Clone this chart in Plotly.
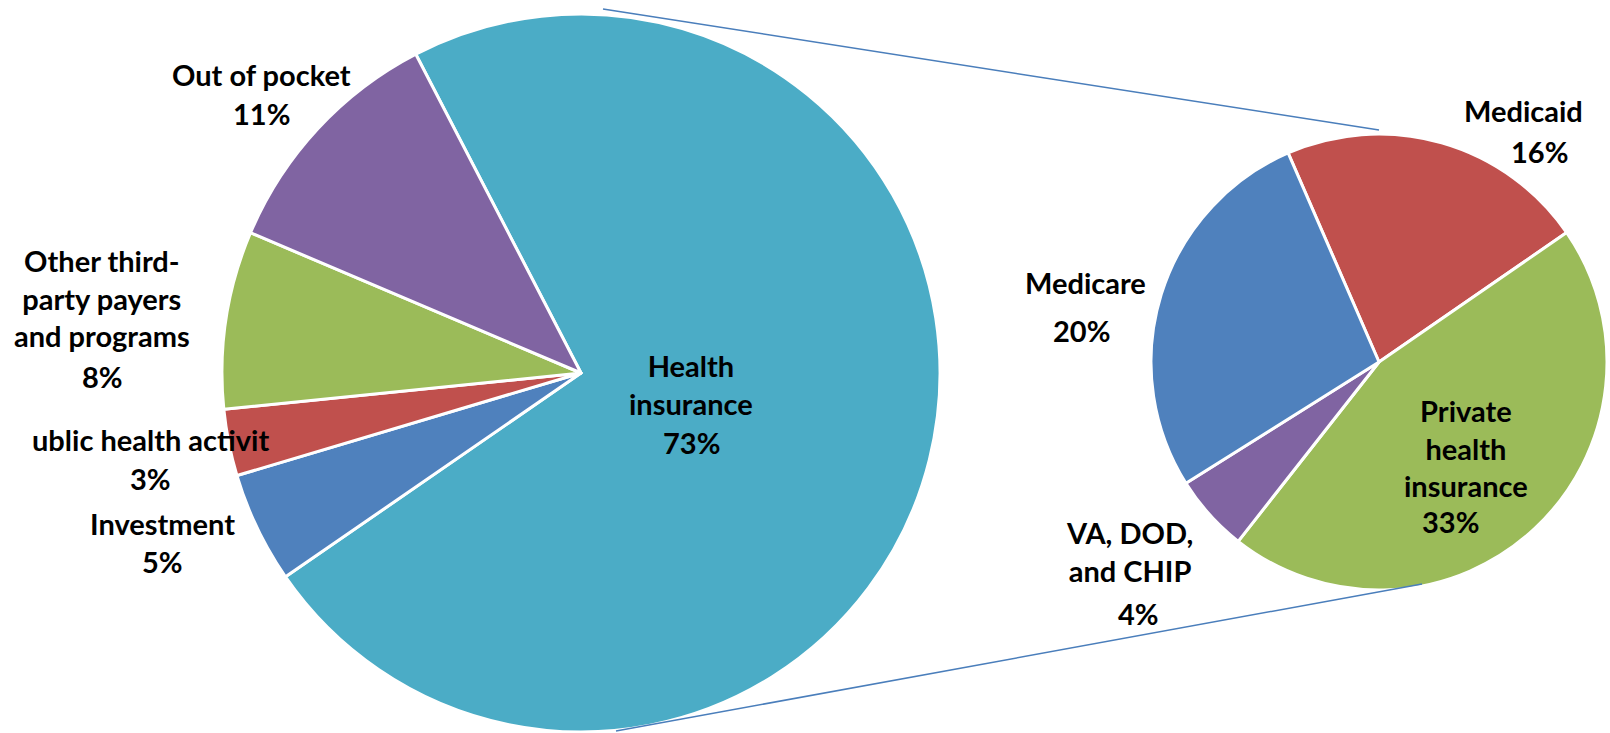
import plotly.graph_objects as go

# ---------------- data ----------------
left_labels = ["Health insurance", "Investment", "Public health activity",
               "Other third-party payers and programs", "Out of pocket"]
left_values = [73, 5, 3, 8, 11]
left_colors = ["#4BACC6", "#4F81BD", "#C0504D", "#9BBB59", "#8064A2"]
left_display = ["Health<br>insurance", "Investment", "ublic health activit",
                "Other third-<br>party payers<br>and programs", "Out of pocket"]

right_labels = ["Medicaid", "Private health insurance", "VA, DOD, and CHIP", "Medicare"]
right_values = [16, 33, 4, 20]
right_colors = ["#C0504D", "#9BBB59", "#8064A2", "#4F81BD"]
right_display = ["Medicaid", "Private<br>health<br>insurance", "VA, DOD,<br>and CHIP", "Medicare"]

W, H = 1610, 733

# label placement (pixel centers): (name_x, name_y, pct_x, pct_y)
left_pos = [(691, 384, 691, 442), (162, 523, 162, 561), (150, 439, 150, 478),
            (102, 298, 102, 376), (261, 75, 261, 113)]
right_pos = [(1523, 111, 1539, 151), (1466, 448, 1450, 521), (1129, 551, 1138, 613),
             (1085, 282, 1081, 330)]

FONT = "Lato, 'Open Sans', sans-serif"
FS = 29


def px(x, y):
    return x / W, 1 - y / H


fig = go.Figure()
fig.add_trace(go.Pie(
    labels=left_labels, values=left_values, sort=False, direction="clockwise",
    rotation=-27.4, textinfo="none", hoverinfo="label+percent",
    marker=dict(colors=left_colors, line=dict(color="white", width=3)),
    domain=dict(x=[222 / W, 940 / W], y=[1 - 732 / H, 1 - 14 / H]),
    showlegend=False,
))
fig.add_trace(go.Pie(
    labels=right_labels, values=right_values, sort=False, direction="clockwise",
    rotation=-23.5, textinfo="none", hoverinfo="label+value",
    marker=dict(colors=right_colors, line=dict(color="white", width=3)),
    domain=dict(x=[1151 / W, 1607 / W], y=[1 - 590 / H, 1 - 134 / H]),
    showlegend=False,
))

annotations = []
for names, vals, pos in [(left_display, left_values, left_pos),
                         (right_display, right_values, right_pos)]:
    for name, v, (nx, ny, qx, qy) in zip(names, vals, pos):
        x, y = px(nx, ny)
        annotations.append(dict(text="<b>%s</b>" % name, x=x, y=y, xref="paper", yref="paper",
                                xanchor="center", yanchor="middle", showarrow=False,
                                font=dict(family=FONT, size=FS, color="black")))
        x, y = px(qx, qy)
        annotations.append(dict(text="<b>%d%%</b>" % v, x=x, y=y, xref="paper", yref="paper",
                                xanchor="center", yanchor="middle", showarrow=False,
                                font=dict(family=FONT, size=FS, color="black")))

shapes = []
for (x0, y0, x1, y1) in [(603, 9, 1379, 130), (616, 731, 1422, 584)]:
    a = px(x0, y0)
    b = px(x1, y1)
    shapes.append(dict(type="line", xref="paper", yref="paper", x0=a[0], y0=a[1],
                       x1=b[0], y1=b[1], line=dict(color="#4A7EBB", width=1.5)))

fig.update_layout(
    width=W, height=H, margin=dict(l=0, r=0, t=0, b=0),
    paper_bgcolor="white", plot_bgcolor="white",
    annotations=annotations, shapes=shapes,
)

fig.write_html("out.html", config={"displayModeBar": False},
               post_script="document.body.style.margin='0';")
